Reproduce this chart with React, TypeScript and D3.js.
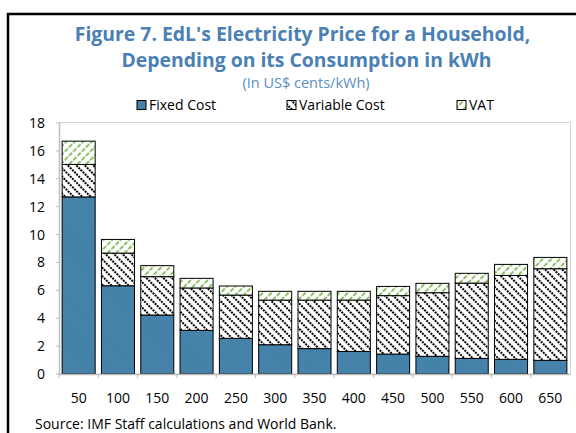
import { useMemo } from 'react';
import * as d3 from 'd3';

const categories = ['50', '100', '150', '200', '250', '300', '350', '400', '450', '500', '550', '600', '650'];
const fixedCost = [12.7, 6.33, 4.23, 3.13, 2.56, 2.1, 1.82, 1.62, 1.43, 1.27, 1.12, 1.05, 0.98];
const variableCost = [2.33, 2.34, 2.75, 3.04, 3.1, 3.2, 3.48, 3.68, 4.19, 4.56, 5.4, 6.02, 6.57];
const vat = [1.67, 0.98, 0.79, 0.69, 0.65, 0.63, 0.63, 0.63, 0.66, 0.67, 0.7, 0.79, 0.81];
const yTicks = [0, 2, 4, 6, 8, 10, 12, 14, 16, 18];
const seriesKeys = ['fixed', 'variable', 'vat'];
const seriesNames = ['Fixed Cost', 'Variable Cost', 'VAT'];

const W = 576;
const H = 433;
const FONT = "'Open Sans', 'Noto Sans', sans-serif";
const TITLE_BLUE = '#4a80b4';

function App() {
  const x = d3.scaleBand().domain(categories).range([59, 570]).paddingInner(0.16).paddingOuter(0.08);
  const y = d3.scaleLinear().domain([0, 18]).range([374, 123]);

  const stacked = useMemo(() => {
    const rows = categories.map((c, i) => ({ cat: c, fixed: fixedCost[i], variable: variableCost[i], vat: vat[i] }));
    return d3.stack().keys(seriesKeys)(rows as any);
  }, []);

  const fills = ['url(#pFixed)', 'url(#pVar)', 'url(#pVat)'];
  const legendX = [137, 287, 457];

  return (
    <svg width={W} height={H} style={{ position: 'absolute', left: 0, top: 0 }} fontFamily={FONT}>
      <defs>
        <pattern id="pFixed" width="5" height="5" patternUnits="userSpaceOnUse" patternTransform="rotate(-45)">
          <rect width="5" height="5" fill="#4683aa" />
          <line x1="0" y1="0" x2="0" y2="5" stroke="#3f79a1" strokeWidth="1" />
        </pattern>
        <pattern id="pVar" width="6" height="6" patternUnits="userSpaceOnUse" patternTransform="rotate(45)">
          <rect width="6" height="6" fill="#fff" />
          <line x1="0" y1="3" x2="6" y2="3" stroke="#000" strokeWidth="1.9" strokeDasharray="2,1" />
        </pattern>
        <pattern id="pVat" width="6" height="6" patternUnits="userSpaceOnUse" patternTransform="rotate(-45)">
          <rect width="6" height="6" fill="#fff" />
          <line x1="0" y1="3" x2="6" y2="3" stroke="#8dc063" strokeWidth="2" strokeDasharray="3,1.5" />
        </pattern>
      </defs>

      <rect x={0} y={0} width={W} height={H} fill="#fff" />
      {/* outer frame */}
      <path d={`M8,${H} V14 H${W}`} fill="none" stroke="#000" strokeWidth={2.5} />

      <text x={302.5} y={41} textAnchor="middle" fontSize={19.4} fontWeight={700} fill={TITLE_BLUE}>
        Figure 7. EdL's Electricity Price for a Household,
      </text>
      <text x={306.5} y={67} textAnchor="middle" fontSize={19.4} fontWeight={700} fill={TITLE_BLUE}>
        Depending on its Consumption in kWh
      </text>
      <text x={306} y={88} textAnchor="middle" fontSize={14.5} fill="#5b8fc4">
        (In US$ cents/kWh)
      </text>

      {seriesNames.map((n, i) => (
        <g key={n}>
          <rect x={legendX[i]} y={100.5} width={9} height={9} fill={fills[i]} stroke="#000" strokeWidth={1} />
          <text x={legendX[i] + 12} y={110} fontSize={14} fill="#000">{n}</text>
        </g>
      ))}

      {/* plot area border */}
      <rect x={59.5} y={122.5} width={511} height={251.5} fill="none" stroke="#d4d4d4" strokeWidth={1} />

      {/* y axis */}
      <line x1={59.5} x2={59.5} y1={123} y2={374} stroke="#bdbdbd" strokeWidth={1.5} />
      {yTicks.map((t) => (
        <g key={t}>
          <line x1={56} x2={60} y1={y(t)} y2={y(t)} stroke="#bdbdbd" strokeWidth={1} />
          <text x={45} y={y(t) + 5} textAnchor="end" fontSize={14} fill="#000">{t}</text>
        </g>
      ))}

      {stacked.map((s, si) => (
        <g key={s.key}>
          {s.map((d, i) => (
            <rect
              key={i}
              x={x(categories[i])}
              y={y(d[1])}
              width={x.bandwidth()}
              height={y(d[0]) - y(d[1])}
              fill={fills[si]}
              stroke="#000"
              strokeWidth={1}
            />
          ))}
        </g>
      ))}

      {/* x axis */}
      <line x1={59} x2={570} y1={374.5} y2={374.5} stroke="#bdbdbd" strokeWidth={1.5} />
      {categories.map((c) => (
        <line key={'t' + c} x1={x(c)! - (x.step() - x.bandwidth()) / 2} x2={x(c)! - (x.step() - x.bandwidth()) / 2} y1={374} y2={378} stroke="#bdbdbd" />
      ))}
      {categories.map((c) => (
        <text key={c} x={x(c)! + x.bandwidth() / 2} y={403} textAnchor="middle" fontSize={14} fill="#000">{c}</text>
      ))}

      <text x={35} y={429} fontSize={14} fill="#000">Source: IMF Staff calculations and World Bank.</text>
    </svg>
  );
}

export default App;
